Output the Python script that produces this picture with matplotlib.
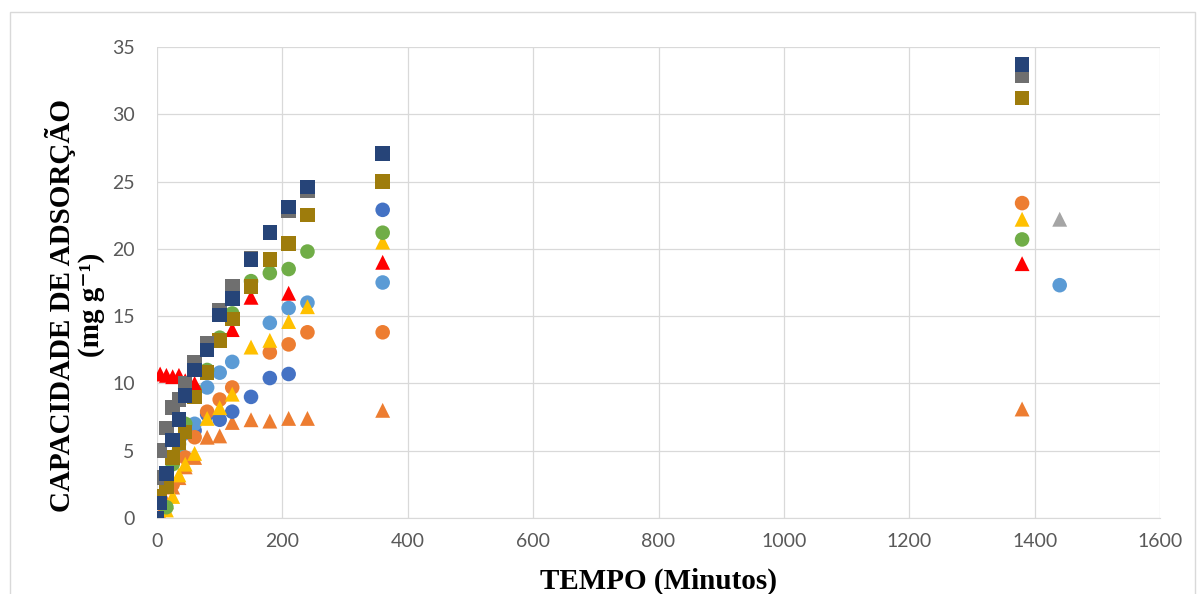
import matplotlib
matplotlib.use("Agg")
import matplotlib.pyplot as plt
from matplotlib.patches import Rectangle

# ---- data ----
t_orange_tri = [5, 15, 25, 35, 45, 60, 80, 100, 120, 150, 180, 210, 240, 360, 1380]
v_orange_tri = [0.3, 1.2, 2.3, 3.0, 3.8, 4.5, 6.0, 6.1, 7.1, 7.3, 7.2, 7.4, 7.4, 8.0, 8.1]

t_blue_circ = [60, 80, 100, 120, 150, 180, 210, 360]
v_blue_circ = [6.5, 7.7, 7.3, 7.9, 9.0, 10.4, 10.7, 22.9]

t_lblue_circ = [35, 45, 60, 80, 100, 120, 180, 210, 240, 360, 1440]
v_lblue_circ = [5.0, 6.3, 7.0, 9.7, 10.8, 11.6, 14.5, 15.6, 16.0, 17.5, 17.3]

t_orange_circ = [25, 45, 60, 80, 100, 120, 180, 210, 240, 360, 1380]
v_orange_circ = [2.5, 4.5, 6.0, 7.9, 8.8, 9.7, 12.3, 12.9, 13.8, 13.8, 23.4]

t_yellow_tri = [15, 25, 35, 45, 60, 80, 100, 120, 150, 180, 210, 240, 360, 1380]
v_yellow_tri = [0.6, 1.6, 3.2, 4.0, 4.8, 7.4, 8.2, 9.2, 12.7, 13.2, 14.6, 15.7, 20.5, 22.2]

t_green_circ = [15, 25, 35, 45, 60, 80, 100, 120, 150, 180, 210, 240, 360, 1380]
v_green_circ = [0.8, 4.0, 5.5, 7.0, 9.5, 11.0, 13.4, 15.2, 17.6, 18.2, 18.5, 19.8, 21.2, 20.7]

t_red_tri = [5, 15, 25, 35, 45, 60, 120, 150, 210, 360, 1380]
v_red_tri = [10.7, 10.6, 10.5, 10.6, 10.2, 10.0, 14.0, 16.4, 16.7, 19.0, 18.9]

t_gray_tri = [1440]
v_gray_tri = [22.2]

t_olive_sq = [5, 15, 25, 35, 45, 60, 80, 100, 120, 150, 180, 210, 240, 360, 1380]
v_olive_sq = [1.6, 2.3, 4.5, 5.6, 6.4, 9.0, 10.8, 13.2, 14.8, 17.2, 19.2, 20.4, 22.5, 25.0, 31.2]

t_gray_sq = [0, 5, 15, 25, 35, 45, 60, 80, 100, 120, 150, 210, 240, 1380]
v_gray_sq = [3.0, 5.0, 6.7, 8.2, 8.8, 10.0, 11.6, 13.0, 15.4, 17.2, 19.3, 22.8, 24.3, 32.9]

t_navy_sq = [0, 5, 15, 25, 35, 45, 60, 80, 100, 120, 150, 180, 210, 240, 360, 1380]
v_navy_sq = [0.0, 1.1, 3.3, 5.8, 7.3, 9.1, 11.0, 12.5, 15.1, 16.3, 19.2, 21.2, 23.1, 24.6, 27.1, 33.7]

x_ticks = [0, 200, 400, 600, 800, 1000, 1200, 1400, 1600]
y_ticks = [0, 5, 10, 15, 20, 25, 30, 35]

series = [
    (t_orange_tri, v_orange_tri, "^", "#ed7d31"),
    (t_blue_circ, v_blue_circ, "o", "#4472c4"),
    (t_lblue_circ, v_lblue_circ, "o", "#5b9bd5"),
    (t_orange_circ, v_orange_circ, "o", "#ed7d31"),
    (t_yellow_tri, v_yellow_tri, "^", "#ffc000"),
    (t_green_circ, v_green_circ, "o", "#70ad47"),
    (t_red_tri, v_red_tri, "^", "#ff0000"),
    (t_gray_tri, v_gray_tri, "^", "#a5a5a5"),
    (t_olive_sq, v_olive_sq, "s", "#9e7c0c"),
    (t_gray_sq, v_gray_sq, "s", "#6f6f6f"),
    (t_navy_sq, v_navy_sq, "s", "#264478"),
]

W, H = 1201, 594
fig = plt.figure(figsize=(W / 100, H / 100), dpi=100)
fig.patch.set_facecolor("white")
fig.patches.append(Rectangle((10 / W, -0.01), 1185 / W, (594 - 12) / H + 0.01,
                             transform=fig.transFigure, fill=False,
                             edgecolor="#d9d9d9", linewidth=1.0))

ax = fig.add_axes([157 / W, (H - 518) / H, (1160 - 157) / W, (518 - 47) / H])
for t, v, m, c in series:
    size = 110 if m == "s" else (115 if m == "^" else 110)
    ax.scatter(t, v, marker=m, s=size, color=c, edgecolors="none", zorder=3)

ax.set_xlim(0, 1600)
ax.set_ylim(0, 35)
ax.set_xticks(x_ticks)
ax.set_yticks(y_ticks)
ax.grid(True, color="#d9d9d9", linewidth=0.9)
ax.set_axisbelow(True)
for s in ["top", "right", "left"]:
    ax.spines[s].set_visible(False)
ax.spines["bottom"].set_color("#d9d9d9")
ax.tick_params(axis="both", length=0, labelsize=14, labelcolor="#595959")
ax.tick_params(axis="y", pad=16)
ax.tick_params(axis="x", pad=11)
for lab in ax.get_xticklabels() + ax.get_yticklabels():
    lab.set_family("Lato")

serif = ["Liberation Serif", "DejaVu Serif"]
fig.text(658 / W, 1 - 581 / H, "TEMPO (Minutos)", ha="center", va="center",
         family=serif, weight="bold", fontsize=21)
fig.text(75 / W, 1 - 305 / H, "CAPACIDADE DE ADSORÇÃO\n(mg g\u207b\u00b9)",
         ha="center", va="center", multialignment="center", linespacing=1.05,
         rotation=90, family=serif, weight="bold", fontsize=21)

fig.savefig("out.png", dpi=100)
